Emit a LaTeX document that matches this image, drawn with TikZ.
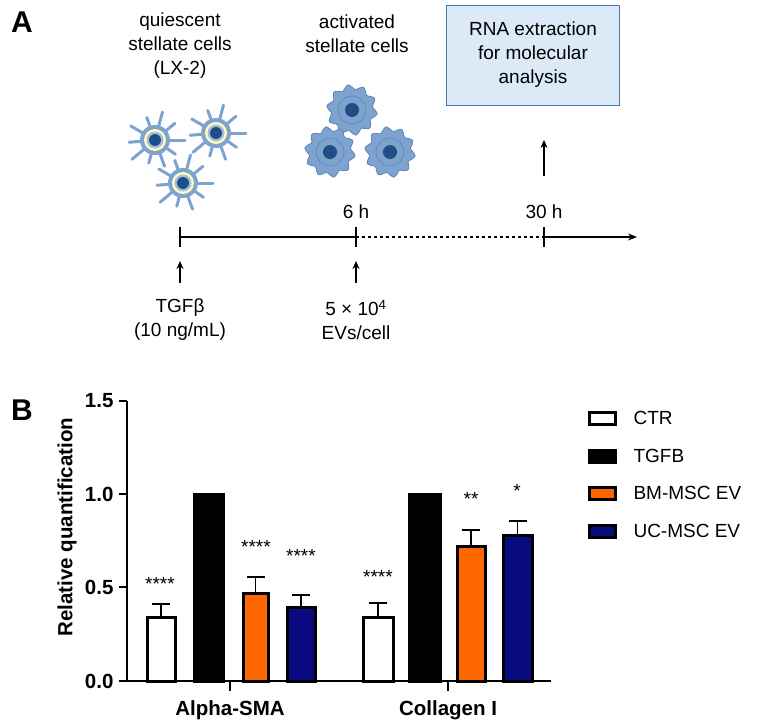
\documentclass[tikz,border=0pt]{standalone}
\usepackage{fontspec}
\setmainfont{Liberation Sans}
\usetikzlibrary{arrows.meta}
\definecolor{cellc}{HTML}{7FA3CF}
\definecolor{celld}{HTML}{5B84B8}
\definecolor{nuc}{HTML}{1F4E86}
\definecolor{boxf}{HTML}{DCEAF7}
\definecolor{boxd}{HTML}{4A78A8}
\definecolor{orng}{HTML}{FF6600}
\definecolor{navy}{HTML}{0A0A80}
\tikzset{lbl/.style={font=\fontsize{19}{24}\selectfont,align=center},
 ax/.style={font=\bfseries\fontsize{20.5}{20}\selectfont},
 star/.style={font=\fontsize{19}{19}\selectfont},
 bar/.style={draw=black,line width=3pt},
 err/.style={line width=1.4pt},
 upar/.style={-{Stealth[length=8pt,width=7pt]},line width=1.5pt}}
\newcommand{\qcell}[2]{%
 \begin{scope}[shift={(#1,#2)}]
 \foreach \a/\l in {0/30,35/25,70/28,105/24,140/30,175/26,210/28,250/24,285/29,320/26}
   \draw[cellc,line width=3pt,line cap=round] (0,0) -- (\a:\l);
 \fill[cellc] (0,0) circle (15);
 \fill[white!75!yellow] (0,0) circle (11);
 \fill[cellc!70!white] (0,0) circle (8.5);
 \fill[nuc] (0,0) circle (6);
 \end{scope}}
\newcommand{\acell}[2]{%
 \begin{scope}[shift={(#1,#2)}]
 \fill[cellc,draw=celld,line width=0.8pt] plot[smooth cycle,samples=40,domain=0:351] (\x:{23+2.5*sin(10*\x)});
 \draw[celld,line width=0.6pt] (0,0) circle (14);
 \fill[nuc] (0,0) circle (7);
 \end{scope}}
\begin{document}
\begin{tikzpicture}[x=1pt,y=-1pt]
\useasboundingbox (0,0) rectangle (771,728);
\node[font=\bfseries\fontsize{30}{30}\selectfont] (A) at (22,22) {A};
\node[font=\bfseries\fontsize{30}{30}\selectfont] (B) at (22,410) {B};
% panel A
\node[lbl] (q) at (180,46) {quiescent\\stellate cells\\(LX-2)};
\node[lbl] (act) at (357,34) {activated\\stellate cells};
\node[lbl,draw=boxd,fill=boxf,line width=1pt,minimum width=173pt,minimum height=100pt] (rna) at (533,55) {RNA extraction\\for molecular\\analysis};
\qcell{155}{140}\qcell{216}{133}\qcell{183}{183}
\acell{352}{110}\acell{330}{152}\acell{390}{152}
\coordinate (t0) at (180,237); \coordinate (t1) at (356,237);
\coordinate (t2) at (544,237); \coordinate (t3) at (637,237);
\draw[line width=1.2pt] (t0) -- (t1);
\draw[line width=1.2pt,dashed] (t1) -- (t2);
\draw[line width=1.2pt,-{Stealth[length=9pt,width=7pt]}] (t2) -- (t3);
\foreach \p in {t0,t1,t2} \draw[line width=1.2pt] ([yshift=-10pt]\p) -- ([yshift=10pt]\p);
\node[lbl] (h6) at (356,212) {6 h};
\node[lbl] (h30) at (544,212) {30 h};
\coordinate (u0) at (180,283); \coordinate (u0e) at (180,261);
\coordinate (u1) at (356,283); \coordinate (u1e) at (356,261);
\coordinate (u2) at (544,176); \coordinate (u2e) at (544,140);
\draw[upar] (u0) -- (u0e); \draw[upar] (u1) -- (u1e); \draw[upar] (u2) -- (u2e);
\node[lbl] (tgf) at (180,320) {TGFβ\\(10 ng/mL)};
\node[lbl] (ev) at (356,320) {5 × 10\textsuperscript{4}\\EVs/cell};
% panel B
\coordinate (o) at (127,681);
\draw[line width=2.5pt] (127,401) -- (o) -- (551,681);
\foreach \v/\y in {0.0/681,0.5/587,1.0/494,1.5/401}{
  \draw[line width=2.5pt] (119,\y) -- (127,\y);
  \node[ax,anchor=east] at (117,\y) {\v};}
\draw[line width=2.5pt] (230,681) -- (230,691);
\draw[line width=2.5pt] (448,681) -- (448,691);
\node[ax,rotate=90] (yl) at (67,527) {Relative quantification};
\node[ax] (g1) at (230,710) {Alpha-SMA};
\node[ax] (g2) at (448,710) {Collagen I};
\foreach \a/\b/\t/\e/\c in {147/175/617/604/white,194/223/494/494/black,243/268/593/577/orng,287/315/607/595/navy,
 363/393/617/603/white,409/440/494/494/black,457/485/546/530/orng,503/532/535/521/navy}{
  \draw[bar,fill=\c] (\a,681) rectangle (\b,\t);
  \draw[err] ({(\a+\b)/2},\t) -- ({(\a+\b)/2},\e) ++(-9,0) -- ++(18,0);}
\node[star] at (160,584) {****};
\node[star] at (256,547) {****};
\node[star] at (301,556) {****};
\node[star] at (378,577) {****};
\node[star] at (471,499) {**};
\node[star] at (517,491) {*};
% legend
\foreach \y/\c/\t in {418/white/CTR,456/black/TGFB,493/orng/BM-MSC EV,531/navy/UC-MSC EV}{
  \draw[draw=black,line width=3pt,fill=\c] (589,\y-6) rectangle (615,\y+6);
  \node[font=\fontsize{19}{19}\selectfont,anchor=west] at (630,\y) {\t};}
\end{tikzpicture}
\end{document}
